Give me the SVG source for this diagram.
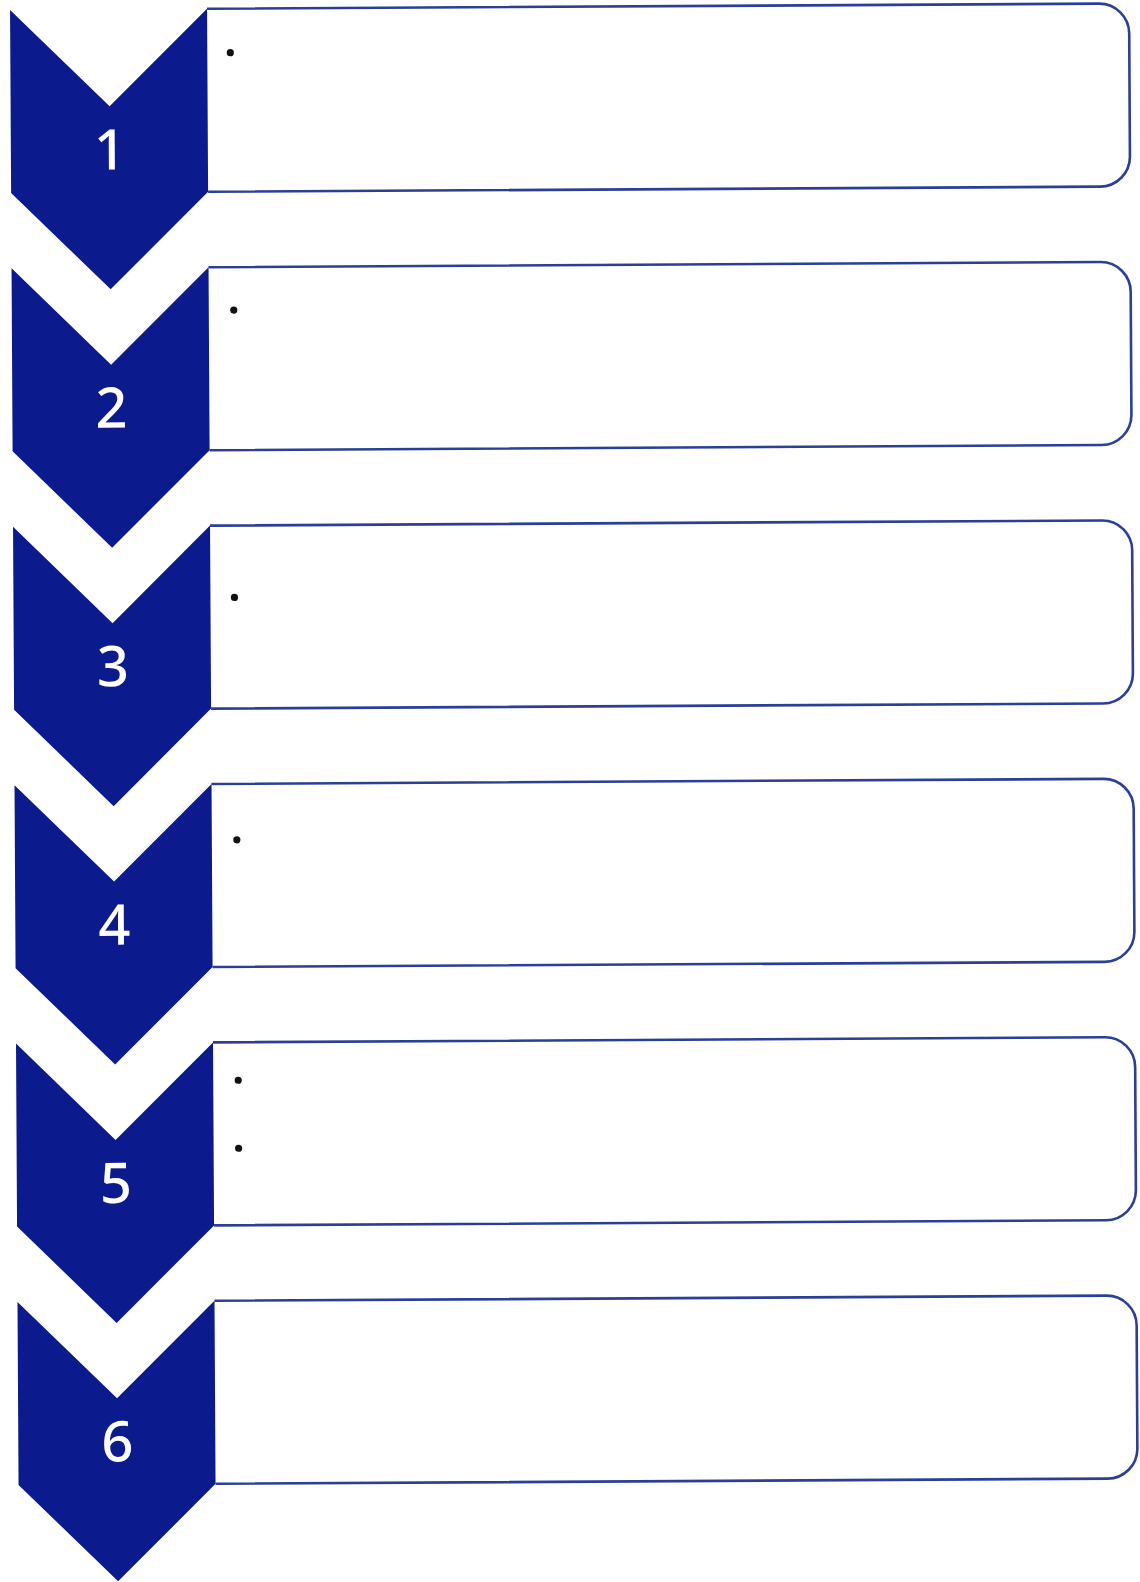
<svg xmlns="http://www.w3.org/2000/svg" width="1140" height="1582" viewBox="0 0 1140 1582">
<defs>
<style>
.chev{fill:#0b1a8c;}
.box{fill:#ffffff;stroke:#2a3f95;stroke-width:2.6;}
.num{fill:#ffffff;font-family:"Noto Sans","Open Sans","Liberation Sans",sans-serif;font-weight:500;font-size:56px;text-anchor:middle;}
.dot{fill:#111111;}
</style>
<path id="chevShape" d="M10,0 L109,97 L207,0 L207,183 L109,280 L10,183 Z"/>
<path id="boxShape" d="M207,0 L1099,0 A30,30 0 0 1 1129,30 L1129,153 A30,30 0 0 1 1099,183 L207,183"/>
</defs>
<rect width="1140" height="1582" fill="#ffffff"/>
<g transform="rotate(-0.33)">
<g id="step1" transform="translate(0,10)">
<use href="#boxShape" class="box"/>
<use href="#chevShape" class="chev"/>
<text class="num" x="109" y="160">1</text>
<circle class="dot" cx="230" cy="44" r="3.6"/>
</g>
<g id="step2" transform="translate(0,268.4)">
<use href="#boxShape" class="box"/>
<use href="#chevShape" class="chev"/>
<text class="num" x="109" y="160">2</text>
<circle class="dot" cx="232" cy="43" r="3.6"/>
</g>
<g id="step3" transform="translate(0,526.8)">
<use href="#boxShape" class="box"/>
<use href="#chevShape" class="chev"/>
<text class="num" x="109" y="160">3</text>
<circle class="dot" cx="231" cy="72" r="3.6"/>
</g>
<g id="step4" transform="translate(0,785.2)">
<use href="#boxShape" class="box"/>
<use href="#chevShape" class="chev"/>
<text class="num" x="109" y="160">4</text>
<circle class="dot" cx="232" cy="56" r="3.6"/>
</g>
<g id="step5" transform="translate(0,1043.6)">
<use href="#boxShape" class="box"/>
<use href="#chevShape" class="chev"/>
<text class="num" x="109" y="160">5</text>
<circle class="dot" cx="232" cy="38" r="3.6"/>
<circle class="dot" cx="232" cy="106" r="3.6"/>
</g>
<g id="step6" transform="translate(0,1302)">
<use href="#boxShape" class="box"/>
<use href="#chevShape" class="chev"/>
<text class="num" x="109" y="160">6</text>
</g>
<g id="connectors"></g>
</g>
</svg>
